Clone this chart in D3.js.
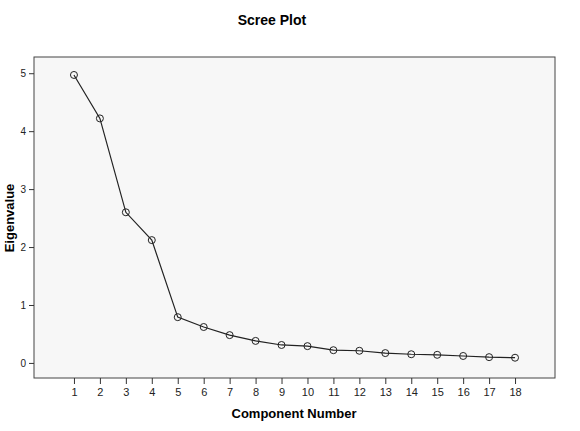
<!DOCTYPE html>
<html><head><meta charset="utf-8">
<script src="https://cdn.jsdelivr.net/npm/d3@7"></script>
<style>body{margin:0;background:#fff}text{font-family:Arial,"Liberation Sans",sans-serif}</style>
</head><body>
<script>
var components = [1,2,3,4,5,6,7,8,9,10,11,12,13,14,15,16,17,18];
var eigenvalues = [4.97,4.22,2.60,2.12,0.79,0.62,0.48,0.38,0.31,0.29,0.22,0.21,0.17,0.15,0.14,0.12,0.10,0.09];
var yTicks = [0,1,2,3,4,5];

var margin = {top: 57, right: 25, bottom: 53, left: 34},
    width = 580 - margin.left - margin.right,
    height = 431 - margin.top - margin.bottom;

var svg = d3.select("body").append("svg")
    .attr("width", 580).attr("height", 431);

// title
svg.append("text").attr("x", 272).attr("y", 25)
    .attr("text-anchor", "middle").style("font-size", "14px").style("font-weight", "bold")
    .text("Scree Plot");

var g = svg.append("g").attr("transform", "translate(" + margin.left + "," + margin.top + ")");

g.append("rect").attr("width", width).attr("height", height)
    .attr("fill", "#f7f7f7").attr("stroke", "#444").attr("stroke-width", 1);

var x = d3.scaleLinear().domain([-0.54, 19.54]).range([0, width]);
var y = d3.scaleLinear().domain([-0.26, 5.28]).range([height, 0]);

// x axis
var xa = g.append("g").attr("transform", "translate(0," + height + ")")
    .call(d3.axisBottom(x).tickValues(components).tickFormat(d3.format("d")).tickSize(6).tickPadding(4));
xa.select(".domain").remove();
xa.selectAll("line").attr("stroke", "#333");
xa.selectAll("text").style("font-size", "11px").attr("fill", "#222");

// y axis
var ya = g.append("g")
    .call(d3.axisLeft(y).tickValues(yTicks).tickFormat(d3.format("d")).tickSize(5).tickPadding(3));
ya.select(".domain").remove();
ya.selectAll("line").attr("stroke", "#333");
ya.selectAll("text").style("font-size", "10px").attr("fill", "#222");

var pts = components.map(function (c, i) { return {c: c, v: eigenvalues[i]}; });

var line = d3.line().x(function (d) { return x(d.c); }).y(function (d) { return y(d.v); });
g.append("path").datum(pts).attr("fill", "none").attr("stroke", "#222")
    .attr("stroke-width", 1.2).attr("d", line);

g.selectAll("circle").data(pts).enter().append("circle")
    .attr("cx", function (d) { return x(d.c); })
    .attr("cy", function (d) { return y(d.v); })
    .attr("r", 3.5).attr("fill", "none").attr("stroke", "#222").attr("stroke-width", 1);

// axis labels
svg.append("text").attr("x", 294).attr("y", 418).attr("text-anchor", "middle")
    .style("font-size", "13px").style("font-weight", "bold").text("Component Number");
svg.append("text").attr("transform", "translate(14,218) rotate(-90)").attr("text-anchor", "middle")
    .style("font-size", "13px").style("font-weight", "bold").text("Eigenvalue");
</script>
</body></html>
